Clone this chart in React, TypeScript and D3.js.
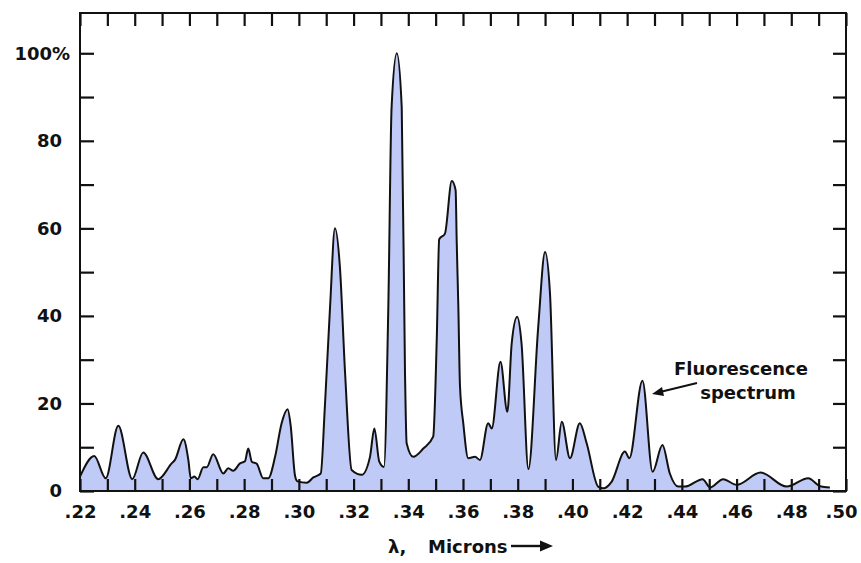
import React, { useEffect, useRef } from 'react';
import * as d3 from 'd3';

// wavelength (microns) and relative intensity (%)
const wavelength = [
  0.2200, 0.2252, 0.2294, 0.2340, 0.2391, 0.2431, 0.2486, 0.2535, 0.2547, 0.2578,
  0.2596, 0.2605, 0.2618, 0.2630, 0.2651, 0.2663, 0.2687, 0.2724, 0.2742, 0.2760,
  0.2785, 0.2803, 0.2815, 0.2828, 0.2846, 0.2870, 0.2888, 0.2913, 0.2937, 0.2959,
  0.2970, 0.2986, 0.2995, 0.3029, 0.3053, 0.3080, 0.3095, 0.3114, 0.3132, 0.3150,
  0.3169, 0.3193, 0.3230, 0.3260, 0.3276, 0.3294, 0.3311, 0.3327, 0.3339, 0.3358,
  0.3376, 0.3388, 0.3394, 0.3418, 0.3455, 0.3491, 0.3504, 0.3513, 0.3534, 0.3559,
  0.3573, 0.3577, 0.3583, 0.3589, 0.3601, 0.3619, 0.3644, 0.3662, 0.3692, 0.3705,
  0.3737, 0.3762, 0.3778, 0.3798, 0.3814, 0.3839, 0.3875, 0.3900, 0.3918, 0.3940,
  0.3961, 0.3991, 0.4027, 0.4052, 0.4094, 0.4113, 0.4143, 0.4192, 0.4208, 0.4256,
  0.4293, 0.4329, 0.4356, 0.4387, 0.4411, 0.4476, 0.4503, 0.4551, 0.4600, 0.4688,
  0.4783, 0.4862, 0.4905, 0.4941
];
const intensity = [
  3.3, 8.0, 2.9, 14.9, 2.7, 8.8, 2.7, 6.3, 7.1, 11.8,
  7.1, 2.9, 3.3, 2.7, 5.4, 5.4, 8.4, 4.0, 5.2, 4.6,
  6.3, 6.8, 9.7, 6.7, 6.2, 2.9, 2.9, 7.8, 15.5, 18.7,
  15.0, 3.5, 2.2, 1.9, 3.1, 4.0, 19.2, 42.0, 60.0, 51.2,
  26.9, 4.8, 3.7, 7.8, 14.3, 6.7, 5.5, 42.0, 87.7, 100.0,
  87.7, 26.9, 10.9, 7.8, 9.7, 12.4, 34.5, 57.5, 58.8, 70.8,
  68.7, 57.0, 42.0, 24.0, 15.5, 7.5, 7.8, 7.1, 15.5, 14.3,
  29.5, 18.1, 33.7, 39.8, 33.7, 5.0, 37.5, 54.6, 45.1, 7.1,
  15.8, 7.5, 15.5, 10.9, 1.0, 0.6, 2.1, 9.0, 7.5, 25.2,
  4.4, 10.5, 4.0, 1.0, 1.0, 2.7, 0.8, 2.7, 1.4, 4.2,
  1.0, 2.9, 1.1, 0.8
];

const xMinorTicks = [
  0.22, 0.23, 0.24, 0.25, 0.26, 0.27, 0.28, 0.29, 0.30, 0.31, 0.32, 0.33, 0.34, 0.35,
  0.36, 0.37, 0.38, 0.39, 0.40, 0.41, 0.42, 0.43, 0.44, 0.45, 0.46, 0.47, 0.48, 0.49, 0.50
];
const xLabelTicks = [0.22, 0.24, 0.26, 0.28, 0.30, 0.32, 0.34, 0.36, 0.38, 0.40, 0.42, 0.44, 0.46, 0.48, 0.50];
const yMinorTicks = [0, 10, 20, 30, 40, 50, 60, 70, 80, 90, 100];
const yLabelTicks = [0, 20, 40, 60, 80, 100];

const W = 861;
const H = 563;
const left = 80, right = 846, top = 13, bottom = 491;
const FILL = '#c0caf7';
const FONT = '"DejaVu Sans", sans-serif';

const App = () => {
  const svgRef = useRef<SVGSVGElement>(null);

  useEffect(() => {
    const svg = d3.select(svgRef.current);
    svg.selectAll('*').remove();

    const x = d3.scaleLinear().domain([0.22, 0.50]).range([left, right]);
    const y = d3.scaleLinear().domain([0, 109.2]).range([bottom, top]);

    const pts = wavelength.map((w, i) => [w, intensity[i]] as [number, number]);

    const area = d3.area<[number, number]>()
      .x(d => x(d[0]))
      .y0(y(0))
      .y1(d => y(d[1]))
      .curve(d3.curveMonotoneX);
    const line = d3.line<[number, number]>()
      .x(d => x(d[0]))
      .y(d => y(d[1]))
      .curve(d3.curveMonotoneX);

    svg.append('path').attr('d', area(pts)).attr('fill', FILL);
    svg.append('path').attr('d', line(pts))
      .attr('fill', 'none').attr('stroke', '#111').attr('stroke-width', 2)
      .attr('stroke-linejoin', 'round');

    const fmtX = (d: number) => d3.format('.2f')(d).replace(/^0/, '');

    // bottom axis: minor ticks + labels
    const gb = svg.append('g').attr('transform', `translate(0,${bottom})`);
    gb.call(d3.axisBottom(x).tickValues(xMinorTicks).tickSize(-12).tickFormat(() => ''));
    gb.append('g').call(d3.axisBottom(x).tickValues(xLabelTicks).tickSize(0).tickPadding(14)
      .tickFormat(d => fmtX(+d)));
    // last label sits a little inside so it is not cut by the page edge
    gb.selectAll('.tick text').filter(d => +d === 0.5).attr('x', -5);

    // top axis ticks
    const gt = svg.append('g').attr('transform', `translate(0,${top})`);
    gt.call(d3.axisTop(x).tickValues(xMinorTicks).tickSize(-13).tickFormat(() => ''));

    // left axis
    const gl = svg.append('g').attr('transform', `translate(${left},0)`);
    gl.call(d3.axisLeft(y).tickValues(yMinorTicks).tickSize(-14).tickFormat(() => ''));
    gl.append('g').call(d3.axisLeft(y).tickValues(yLabelTicks).tickSize(0).tickPadding(18)
      .tickFormat(d => (+d === 100 ? '100%' : String(d))));
    // the % sign hangs past the column of numbers
    gl.selectAll('.tick text').filter(d => +d === 100).attr('x', -10);

    // right axis ticks
    const gr = svg.append('g').attr('transform', `translate(${right},0)`);
    gr.call(d3.axisRight(y).tickValues(yMinorTicks).tickSize(-13).tickFormat(() => ''));

    svg.selectAll('.domain').remove();
    svg.selectAll('.tick line').attr('stroke', '#111').attr('stroke-width', 2.2);
    svg.selectAll('g').attr('font-family', FONT).attr('font-size', 18).attr('font-weight', 'bold');
    svg.selectAll('text').attr('fill', '#111');

    // frame
    svg.append('rect')
      .attr('x', left).attr('y', top)
      .attr('width', right - left).attr('height', bottom - top)
      .attr('fill', 'none').attr('stroke', '#111').attr('stroke-width', 2);

    // x axis title
    const title = svg.append('g').attr('font-family', FONT).attr('fill', '#111')
      .attr('font-weight', 'bold').attr('font-size', 18);
    title.append('text').attr('x', 388).attr('y', 553).text('λ,');
    title.append('text').attr('x', 428).attr('y', 553).text('Microns');
    title.append('line').attr('x1', 511).attr('x2', 543).attr('y1', 546).attr('y2', 546)
      .attr('stroke', '#111').attr('stroke-width', 2.4);
    title.append('path').attr('d', 'M553,546 L540,540.5 L540,551.5 Z').attr('fill', '#111');

    // annotation
    const ann = svg.append('g').attr('font-family', FONT).attr('fill', '#111').attr('font-size', 18)
      .attr('font-weight', 'bold').attr('text-anchor', 'middle');
    ann.append('text').attr('x', 741).attr('y', 375).text('Fluorescence');
    ann.append('text').attr('x', 748).attr('y', 399).text('spectrum');
    ann.append('line').attr('x1', 697).attr('y1', 383).attr('x2', 660).attr('y2', 392)
      .attr('stroke', '#111').attr('stroke-width', 2);
    ann.append('path').attr('d', 'M652,394 L662,387 L664,396 Z').attr('fill', '#111');
  }, []);

  return (
    <svg ref={svgRef} width={W} height={H}
      style={{ position: 'absolute', left: 0, top: 0, background: '#fff' }} />
  );
};

export default App;
